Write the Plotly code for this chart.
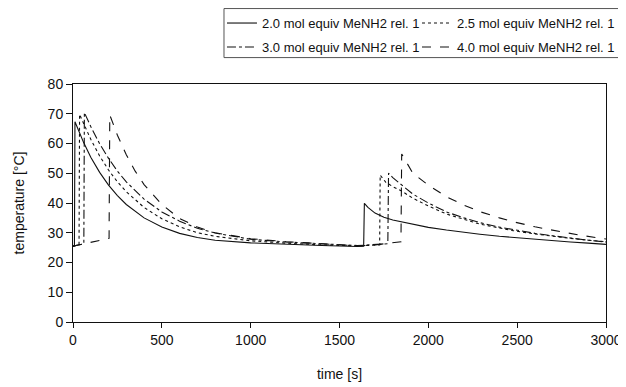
import plotly.graph_objects as go

# ---- data ----
names = ["2.0 mol equiv MeNH2 rel. 1", "2.5 mol equiv MeNH2 rel. 1",
         "3.0 mol equiv MeNH2 rel. 1", "4.0 mol equiv MeNH2 rel. 1"]

t_20 = [0, 8, 11, 30, 60, 100, 150, 200, 250, 300, 400, 500, 600, 700, 800, 1000, 1200, 1400, 1600, 1636,
        1640, 1660, 1700, 1750, 1800, 1913, 2000, 2102, 2200, 2290, 2400, 2477, 2600, 2700, 2800, 2900, 3000]
T_20 = [25.4, 25.6, 67.3, 64.4, 60.3, 55.4, 50.3, 46.0, 42.5, 39.5, 35.0, 31.9, 29.8, 28.4, 27.5, 26.6, 26.1, 25.7, 25.4, 25.5,
        39.9, 38.5, 36.6, 35.2, 34.3, 32.8, 31.8, 30.9, 30.1, 29.5, 28.8, 28.4, 27.8, 27.3, 26.9, 26.5, 26.1]

t_25 = [0, 34, 37, 60, 100, 150, 200, 250, 300, 400, 500, 600, 700, 800, 1000, 1200, 1400, 1600, 1726,
        1729, 1760, 1800, 1850, 1913, 2000, 2102, 2200, 2290, 2400, 2477, 2600, 2700, 2800, 2900, 3000]
T_25 = [25.5, 26.0, 69.8, 66.5, 61.4, 55.8, 51.1, 47.1, 43.8, 38.5, 34.7, 32.0, 30.0, 28.8, 27.3, 26.5, 25.9, 25.6, 25.9,
        49.4, 47.0, 45.5, 44.0, 41.6, 39.0, 36.3, 34.5, 32.9, 31.6, 30.7, 29.6, 28.8, 28.1, 27.5, 27.0]

t_30 = [0, 61, 64, 100, 150, 200, 250, 300, 400, 500, 600, 700, 800, 1000, 1200, 1400, 1600, 1772,
        1776, 1800, 1850, 1913, 2000, 2102, 2200, 2290, 2400, 2477, 2600, 2700, 2800, 2900, 3000]
T_30 = [25.5, 26.3, 70.4, 65.7, 59.9, 55.0, 50.7, 47.1, 41.3, 37.0, 33.9, 31.5, 29.9, 27.8, 26.9, 26.2, 25.7, 26.3,
        50.0, 48.5, 46.0, 43.0, 40.0, 37.0, 35.0, 33.4, 31.9, 31.0, 29.8, 29.0, 28.2, 27.5, 26.9]

t_40 = [0, 100, 203, 207, 250, 300, 350, 400, 500, 600, 700, 800, 900, 1000, 1200, 1400, 1600, 1700, 1846,
        1850, 1913, 2000, 2102, 2200, 2290, 2400, 2477, 2600, 2666, 2750, 2853, 2950, 3000]
T_40 = [25.5, 26.8, 28.1, 69.6, 62.8, 56.2, 50.7, 46.2, 39.5, 34.8, 31.9, 30.0, 29.0, 28.0, 27.0, 26.2, 25.6, 25.9, 27.0,
        56.5, 50.0, 46.0, 42.1, 39.3, 37.1, 35.0, 33.7, 32.0, 31.2, 30.3, 29.2, 28.4, 27.9]

series_t = [t_20, t_25, t_30, t_40]
series_T = [T_20, T_25, T_30, T_40]
dashes = ["solid", "dot", "dashdot", "dash"]
legend_ids = ["legend", "legend2", "legend", "legend2"]   # two legend columns

x_ticks = [0, 500, 1000, 1500, 2000, 2500, 3000]
y_ticks = [0, 10, 20, 30, 40, 50, 60, 70, 80]

FONT = "Liberation Sans, Arial, sans-serif"

fig = go.Figure()
for i, (nm, tx, ty, d, lg) in enumerate(zip(names, series_t, series_T, dashes, legend_ids)):
    fig.add_trace(go.Scatter(x=tx, y=ty, name=nm, mode="lines", legend=lg,
                             legendgroup="g%d" % i,
                             line=dict(color="#111111", width=1.1, dash=d)))

leg_common = dict(orientation="v", yanchor="top", xanchor="left",
                  borderwidth=0, bgcolor="rgba(0,0,0,0)",
                  font=dict(family=FONT, size=13, color="#111111"),
                  itemwidth=30, tracegroupgap=4, traceorder="grouped")

fig.update_layout(
    width=626, height=387,
    margin=dict(l=65, r=28, t=76, b=73, autoexpand=False),
    paper_bgcolor="white", plot_bgcolor="white",
    font=dict(family=FONT, size=14, color="#111111"),
    showlegend=True,
    legend=dict(x=0.2795, y=1.319, **leg_common),
    legend2=dict(x=0.6454, y=1.319, **leg_common),
    shapes=[dict(type="rect", xref="paper", yref="paper",
                 x0=0.2833, x1=1.0263, y0=1.111, y1=1.317,
                 line=dict(color="#555555", width=1), fillcolor="rgba(0,0,0,0)", layer="below")],
    xaxis=dict(range=[0, 3000], tickvals=x_ticks, showgrid=False, zeroline=False,
               showline=True, mirror=True, linecolor="#111111", linewidth=1,
               ticks="outside", ticklen=5, tickcolor="#111111",
               tickfont=dict(size=14),
               title=dict(text="time [s]", standoff=22, font=dict(size=14))),
    yaxis=dict(range=[0, 80], tickvals=y_ticks, showgrid=False, zeroline=False,
               showline=True, mirror=True, linecolor="#111111", linewidth=1,
               ticks="outside", ticklen=6, tickcolor="#111111",
               tickfont=dict(size=14),
               title=dict(text="temperature [°C]", standoff=19, font=dict(size=14))),
)

fig.write_html("out.html")
